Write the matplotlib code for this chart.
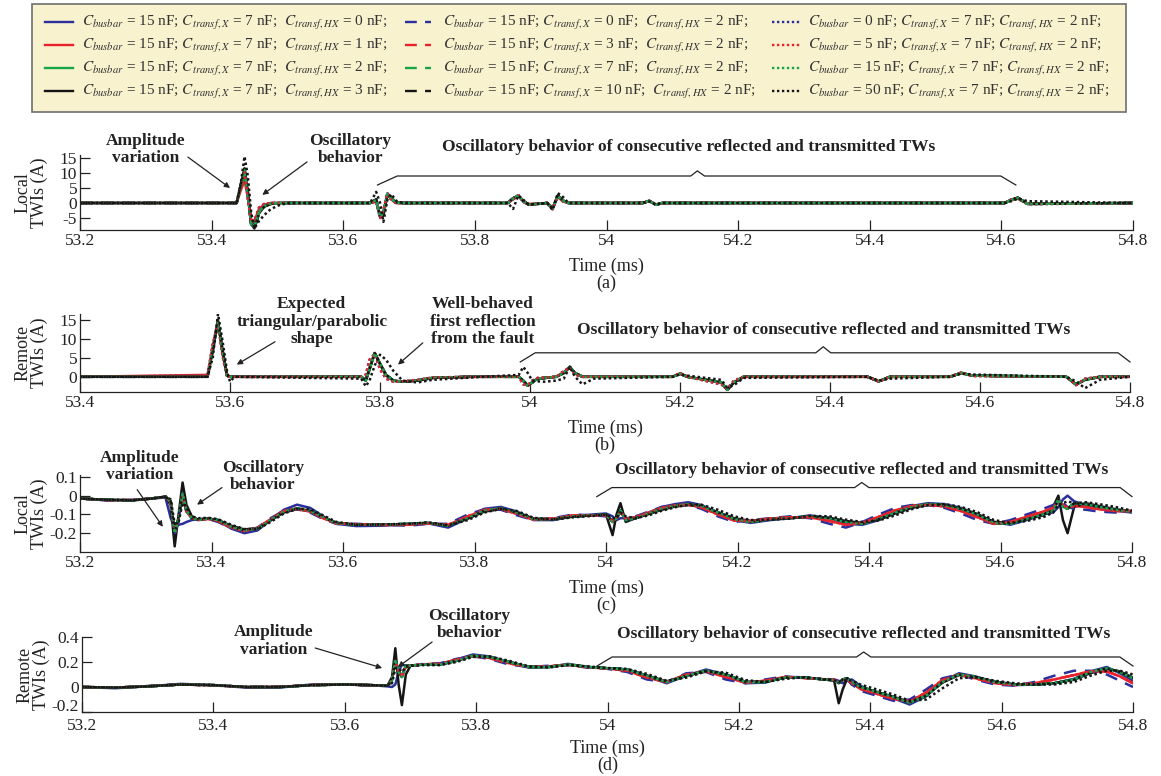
import matplotlib
matplotlib.use("Agg")
import matplotlib.pyplot as plt
from matplotlib.lines import Line2D
from matplotlib.patches import Rectangle
from matplotlib.ticker import FuncFormatter, FixedLocator
from matplotlib.transforms import ScaledTranslation

plt.rcParams['font.family'] = 'serif'
plt.rcParams['font.serif'] = ['Liberation Serif', 'DejaVu Serif']
plt.rcParams['mathtext.fontset'] = 'stix'

# ---------------------------------------------------------------------------
# Simulated TWI traces, sampled at the knots listed in t_*
# ---------------------------------------------------------------------------

# (a) local TWIs, full-scale (A)
t_a = [53.200, 53.438, 53.444, 53.450, 53.455, 53.460, 53.465, 53.472, 53.480, 53.490, 53.505, 53.520,
       53.641, 53.650, 53.656, 53.661, 53.667, 53.673, 53.680, 53.690,
       53.850, 53.858, 53.866, 53.874, 53.882, 53.910, 53.918, 53.926, 53.934, 53.942,
       54.055, 54.065, 54.075, 54.085,
       54.605, 54.615, 54.625, 54.640, 54.800]
a_mid = [0, 0, 5.5, 11.0, 3.0, -7.0, -8.0, -3.0, -1.0, -0.2, 0, 0,
         0, 1.0, -4.5, -3.5, 3.0, 1.5, 0.2, 0,
         0, 1.5, 2.5, 0.5, -0.5, 0, -1.8, 2.4, 0.8, 0,
         0, 0.7, -0.6, 0,
         0, 1.0, 1.7, -0.3, 0]
a_blue = [0, 0, 5.0, 10.0, 2.5, -6.5, -7.0, -2.5, -0.7, 0, 0, 0,
          0, 0.8, -4.8, -3.0, 3.2, 1.5, 0, 0,
          0, 1.4, 2.6, 0.4, -0.6, 0, -2.0, 2.2, 0.6, 0,
          0, 0.8, -0.5, 0,
          0, 1.1, 1.6, -0.3, 0]
a_red = [0, 0, 4.0, 7.5, 2.0, -5.5, -6.0, -2.0, -0.5, 0, 0, 0,
         0, 0.6, -4.0, -3.0, 2.8, 1.2, 0, 0,
         0, 1.2, 2.2, 0.5, -0.3, 0, -1.5, 2.0, 0.5, 0,
         0, 0.6, -0.5, 0,
         0, 0.9, 1.4, -0.2, 0]
a_black = [0, 0, 6.0, 11.5, 4.0, -7.0, -8.5, -3.5, -1.2, -0.3, 0, 0,
           0, 1.2, -4.5, -4.0, 2.6, 1.8, 0.3, 0,
           0, 1.6, 2.4, 0.6, -0.6, 0, -1.8, 2.5, 0.9, 0,
           0, 0.7, -0.6, 0,
           0, 1.1, 1.8, -0.3, 0]
a_low = [0, 0, 6.0, 10.5, 1.5, -6.5, -6.0, -1.5, -0.3, 0, 0, 0,
         0, 0.5, -5.0, -2.5, 3.3, 1.0, 0, 0,
         0, 1.3, 2.6, 0.3, -0.6, 0, -2.1, 2.2, 0.5, 0,
         0, 0.7, -0.6, 0,
         0, 1.2, 1.5, -0.4, 0]
a_high = [0, 0, 6.0, 15.5, 9.0, -3.0, -8.5, -6.0, -4.0, -2.0, -0.5, 0,
          0, 3.7, 0, -6.3, 1.0, 3.0, 0.8, 0,
          0, -2.0, 2.5, 1.0, -0.5, 0, -2.3, 3.3, 2.0, 0,
          0, 0.5, -0.5, 0,
          0, 0.6, 1.5, 0.6, 0]

# (b) remote TWIs, full-scale (A)
t_b = [53.400, 53.570, 53.577, 53.584, 53.590, 53.596, 53.600, 53.606,
       53.775, 53.781, 53.786, 53.793, 53.800, 53.808, 53.818, 53.830, 53.850, 53.870, 53.920,
       53.985, 53.991, 53.997, 54.003, 54.010, 54.020, 54.035, 54.045, 54.053, 54.060, 54.070, 54.085,
       54.190, 54.200, 54.210, 54.255, 54.263, 54.272, 54.285,
       54.450, 54.465, 54.480, 54.560, 54.575, 54.590,
       54.715, 54.728, 54.740, 54.760, 54.800]
b_mid = [0, 0, 7.0, 14.5, 7.0, 0.3, 0, 0,
         0, -1.0, 2.0, 6.2, 3.5, 0.5, -1.0, -1.3, -1.0, -0.3, 0,
         0, -1.0, -2.3, -1.5, -0.5, -0.3, 0, 1.0, 2.6, 1.0, 0, 0,
         0, 0.8, 0, -1.5, -3.4, -1.5, 0,
         0, -1.2, 0, 0, 1.0, 0.3,
         0, -2.0, -0.8, 0, 0]
b_red = [0, 0.5, 8.0, 15.0, 6.0, 0.2, 0, 0,
         0, -0.8, 2.5, 6.3, 3.2, 0.3, -1.1, -1.3, -1.0, -0.3, 0,
         0, -1.2, -2.4, -1.4, -0.5, -0.3, 0, 1.2, 2.6, 0.9, 0, 0,
         0, 0.9, 0, -1.6, -3.3, -1.4, 0,
         0, -1.2, 0, 0, 1.1, 0.3,
         0, -2.1, -0.7, 0, 0]
b_early = [0, 0.3, 8.5, 14.0, 5.5, 0, 0, 0,
           0, 0.5, 4.5, 6.0, 2.0, -0.5, -1.3, -1.2, -0.8, -0.2, 0,
           0, -2.0, -2.2, -1.0, -0.3, -0.2, 0, 1.5, 2.4, 0.5, 0, 0,
           0, 1.0, 0, -2.0, -3.2, -1.0, 0,
           0, -1.3, 0, 0, 1.1, 0.2,
           0, -2.2, -0.5, 0, 0]
b_high = [0, 0, 5.0, 16.5, 9.5, 1.5, -1.3, 0,
          -0.5, -2.5, -1.0, 3.0, 5.8, 4.5, 1.5, -1.0, -1.5, -0.8, -0.2,
          0.5, 2.6, 1.0, -1.0, -1.2, -1.3, -1.0, -0.5, 2.6, 0, -2.0, -0.5,
          0, 0.6, 0.3, -0.8, -2.8, -2.2, -0.3,
          0, -1.0, -0.5, 0, 0.8, 0.6,
          0, -1.2, -3.0, -0.8, 0]

# (c) local TWIs, low-amplitude window (A)
t_c = [53.200, 53.240, 53.280, 53.310, 53.330, 53.338, 53.344, 53.350, 53.356, 53.362,
       53.370, 53.380, 53.395, 53.410, 53.430, 53.450, 53.470, 53.490, 53.510, 53.530,
       53.550, 53.570, 53.590, 53.620, 53.660, 53.700, 53.730, 53.760, 53.790, 53.815,
       53.840, 53.865, 53.890, 53.920, 53.950, 53.980, 54.000, 54.010, 54.016, 54.022,
       54.030, 54.045, 54.065, 54.085, 54.105, 54.125, 54.145, 54.170, 54.195, 54.220,
       54.250, 54.280, 54.310, 54.340, 54.365, 54.390, 54.415, 54.440, 54.465, 54.490,
       54.515, 54.540, 54.565, 54.590, 54.615, 54.640, 54.665, 54.680, 54.688, 54.695,
       54.702, 54.712, 54.730, 54.750, 54.775, 54.800]
c_mid = [-0.015, -0.022, -0.025, -0.015, -0.005, -0.030, -0.200, -0.120, 0.010, -0.080,
         -0.120, -0.128, -0.122, -0.130, -0.165, -0.185, -0.175, -0.130, -0.085, -0.068,
         -0.080, -0.115, -0.145, -0.155, -0.155, -0.150, -0.145, -0.160, -0.120, -0.080,
         -0.068, -0.090, -0.125, -0.125, -0.110, -0.105, -0.100, -0.140, -0.120, -0.080,
         -0.130, -0.120, -0.095, -0.070, -0.055, -0.045, -0.055, -0.090, -0.125, -0.140,
         -0.125, -0.120, -0.110, -0.120, -0.140, -0.150, -0.125, -0.090, -0.060, -0.045,
         -0.050, -0.070, -0.100, -0.145, -0.150, -0.125, -0.100, -0.080, -0.020, -0.060,
         -0.070, -0.040, -0.045, -0.060, -0.075, -0.085]
c_blue = [-0.015, -0.025, -0.022, -0.015, -0.010, -0.120, -0.170, -0.155, -0.150, -0.140,
          -0.130, -0.125, -0.120, -0.135, -0.175, -0.200, -0.185, -0.130, -0.075, -0.048,
          -0.065, -0.110, -0.150, -0.162, -0.160, -0.152, -0.148, -0.170, -0.120, -0.070,
          -0.060, -0.085, -0.130, -0.130, -0.110, -0.100, -0.095, -0.110, -0.130, -0.120,
          -0.120, -0.115, -0.090, -0.060, -0.045, -0.035, -0.050, -0.090, -0.130, -0.145,
          -0.130, -0.120, -0.105, -0.120, -0.150, -0.155, -0.130, -0.090, -0.055, -0.040,
          -0.045, -0.065, -0.100, -0.140, -0.155, -0.130, -0.100, -0.090, -0.060, -0.020,
          0.000, -0.030, -0.050, -0.070, -0.080, -0.090]
c_black = [-0.015, -0.022, -0.025, -0.015, -0.005, -0.050, -0.270, -0.100, 0.070, -0.050,
           -0.110, -0.128, -0.122, -0.130, -0.160, -0.180, -0.172, -0.132, -0.090, -0.072,
           -0.082, -0.115, -0.145, -0.155, -0.155, -0.150, -0.145, -0.160, -0.122, -0.085,
           -0.072, -0.090, -0.122, -0.125, -0.112, -0.105, -0.100, -0.210, -0.100, -0.040,
           -0.140, -0.120, -0.098, -0.075, -0.058, -0.050, -0.058, -0.088, -0.120, -0.135,
           -0.125, -0.120, -0.112, -0.118, -0.135, -0.145, -0.128, -0.095, -0.065, -0.050,
           -0.052, -0.070, -0.098, -0.140, -0.145, -0.125, -0.105, -0.060, 0.000, -0.130,
           -0.200, -0.060, -0.040, -0.055, -0.072, -0.085]
c_bdash = [-0.015, -0.024, -0.024, -0.014, -0.005, -0.040, -0.210, -0.130, 0.000, -0.090,
           -0.125, -0.130, -0.125, -0.140, -0.175, -0.190, -0.170, -0.120, -0.080, -0.072,
           -0.090, -0.125, -0.150, -0.150, -0.155, -0.160, -0.150, -0.150, -0.100, -0.072,
           -0.075, -0.105, -0.130, -0.120, -0.100, -0.105, -0.110, -0.130, -0.120, -0.090,
           -0.120, -0.110, -0.085, -0.060, -0.050, -0.050, -0.070, -0.110, -0.140, -0.130,
           -0.120, -0.110, -0.120, -0.150, -0.170, -0.140, -0.100, -0.065, -0.050, -0.050,
           -0.065, -0.095, -0.130, -0.150, -0.130, -0.100, -0.070, -0.050, -0.030, -0.040,
           -0.060, -0.070, -0.075, -0.085, -0.090, -0.080]
c_rdash = [-0.015, -0.023, -0.024, -0.015, -0.005, -0.035, -0.200, -0.125, 0.000, -0.085,
           -0.120, -0.128, -0.124, -0.135, -0.170, -0.188, -0.172, -0.125, -0.082, -0.070,
           -0.085, -0.120, -0.148, -0.152, -0.156, -0.155, -0.148, -0.155, -0.110, -0.076,
           -0.070, -0.098, -0.128, -0.122, -0.105, -0.105, -0.105, -0.135, -0.120, -0.085,
           -0.125, -0.115, -0.090, -0.065, -0.052, -0.048, -0.062, -0.100, -0.133, -0.135,
           -0.122, -0.115, -0.115, -0.135, -0.155, -0.145, -0.112, -0.078, -0.055, -0.048,
           -0.058, -0.082, -0.115, -0.150, -0.140, -0.112, -0.085, -0.065, -0.030, -0.050,
           -0.065, -0.055, -0.060, -0.072, -0.082, -0.082]
c_kdot = [-0.015, -0.022, -0.025, -0.015, -0.005, -0.020, -0.150, -0.140, -0.040, -0.060,
          -0.110, -0.120, -0.118, -0.125, -0.155, -0.178, -0.178, -0.140, -0.095, -0.070,
          -0.072, -0.105, -0.140, -0.155, -0.153, -0.150, -0.142, -0.158, -0.130, -0.090,
          -0.070, -0.082, -0.118, -0.128, -0.115, -0.108, -0.100, -0.120, -0.120, -0.090,
          -0.110, -0.120, -0.105, -0.080, -0.062, -0.048, -0.048, -0.075, -0.110, -0.130,
          -0.128, -0.122, -0.108, -0.110, -0.128, -0.140, -0.132, -0.105, -0.072, -0.050,
          -0.045, -0.060, -0.088, -0.130, -0.145, -0.135, -0.115, -0.090, -0.050, -0.040,
          -0.030, -0.040, -0.035, -0.045, -0.060, -0.080]

# (d) remote TWIs, low-amplitude window (A)
t_d = [53.200, 53.250, 53.300, 53.350, 53.400, 53.450, 53.500, 53.550, 53.600, 53.640,
       53.665, 53.672, 53.677, 53.682, 53.687, 53.693, 53.700, 53.720, 53.745, 53.770,
       53.795, 53.820, 53.850, 53.880, 53.910, 53.940, 53.970, 54.000, 54.030, 54.060,
       54.090, 54.120, 54.150, 54.180, 54.210, 54.240, 54.270, 54.300, 54.330, 54.345,
       54.352, 54.358, 54.365, 54.372, 54.385, 54.410, 54.435, 54.460, 54.485, 54.510,
       54.535, 54.560, 54.590, 54.620, 54.650, 54.680, 54.710, 54.735, 54.760, 54.780,
       54.800]
d_mid = [0.000, -0.005, 0.005, 0.020, 0.015, 0.000, 0.000, 0.015, 0.020, 0.015,
         0.010, 0.050, 0.220, 0.120, 0.080, 0.170, 0.170, 0.180, 0.180, 0.210,
         0.250, 0.240, 0.200, 0.160, 0.160, 0.180, 0.160, 0.150, 0.140, 0.090,
         0.040, 0.090, 0.130, 0.100, 0.040, 0.040, 0.075, 0.075, 0.060, 0.055,
         0.030, 0.060, 0.070, 0.040, 0.000, -0.040, -0.080, -0.125, -0.070, 0.040,
         0.100, 0.080, 0.040, 0.020, 0.020, 0.030, 0.060, 0.120, 0.150, 0.120,
         0.070]
d_blue = [0.000, -0.010, 0.005, 0.025, 0.015, -0.005, -0.005, 0.020, 0.020, 0.015,
          0.005, 0.000, 0.020, 0.120, 0.180, 0.170, 0.170, 0.180, 0.185, 0.220,
          0.260, 0.245, 0.200, 0.155, 0.160, 0.185, 0.160, 0.150, 0.140, 0.085,
          0.030, 0.090, 0.140, 0.100, 0.030, 0.035, 0.080, 0.078, 0.060, 0.060,
          0.050, 0.030, 0.050, 0.060, 0.010, -0.050, -0.090, -0.140, -0.075, 0.045,
          0.110, 0.085, 0.035, 0.015, 0.020, 0.030, 0.065, 0.125, 0.160, 0.110,
          0.050]
d_black = [0.000, -0.005, 0.005, 0.020, 0.015, 0.000, 0.000, 0.015, 0.020, 0.015,
           0.010, 0.080, 0.310, 0.020, -0.145, 0.100, 0.170, 0.180, 0.180, 0.208,
           0.248, 0.240, 0.200, 0.162, 0.160, 0.178, 0.160, 0.150, 0.140, 0.092,
           0.045, 0.088, 0.128, 0.100, 0.042, 0.042, 0.075, 0.075, 0.060, 0.050,
           -0.130, -0.020, 0.070, 0.020, 0.000, -0.040, -0.078, -0.120, -0.070, 0.035,
           0.095, 0.080, 0.042, 0.022, 0.020, 0.030, 0.058, 0.110, 0.145, 0.125,
           0.075]
d_bdash = [0.000, -0.005, 0.008, 0.022, 0.012, 0.000, 0.002, 0.018, 0.020, 0.012,
           0.010, 0.060, 0.200, 0.130, 0.090, 0.160, 0.170, 0.185, 0.190, 0.225,
           0.245, 0.225, 0.180, 0.160, 0.170, 0.175, 0.155, 0.145, 0.120, 0.060,
           0.040, 0.110, 0.120, 0.060, 0.030, 0.060, 0.085, 0.070, 0.065, 0.060,
           0.030, 0.060, 0.060, 0.020, -0.030, -0.070, -0.110, -0.100, -0.020, 0.070,
           0.100, 0.060, 0.020, 0.010, 0.040, 0.090, 0.130, 0.130, 0.100, 0.050,
           0.000]
d_rdash = [0.000, -0.005, 0.006, 0.020, 0.014, 0.000, 0.001, 0.016, 0.020, 0.014,
           0.010, 0.055, 0.210, 0.125, 0.085, 0.165, 0.170, 0.182, 0.185, 0.218,
           0.248, 0.232, 0.190, 0.160, 0.165, 0.178, 0.158, 0.148, 0.130, 0.075,
           0.040, 0.100, 0.125, 0.080, 0.035, 0.050, 0.080, 0.072, 0.062, 0.058,
           0.030, 0.060, 0.065, 0.030, -0.015, -0.055, -0.095, -0.115, -0.045, 0.055,
           0.100, 0.070, 0.030, 0.015, 0.030, 0.060, 0.095, 0.125, 0.125, 0.085,
           0.030]
d_kdot = [0.000, -0.005, 0.005, 0.020, 0.015, 0.000, 0.000, 0.015, 0.020, 0.015,
          0.010, 0.030, 0.150, 0.150, 0.120, 0.160, 0.170, 0.175, 0.175, 0.200,
          0.240, 0.245, 0.210, 0.165, 0.155, 0.175, 0.165, 0.152, 0.145, 0.105,
          0.050, 0.075, 0.125, 0.115, 0.055, 0.040, 0.065, 0.078, 0.062, 0.055,
          0.040, 0.050, 0.060, 0.050, 0.020, -0.020, -0.060, -0.110, -0.100, -0.010,
          0.070, 0.080, 0.050, 0.030, 0.020, 0.020, 0.040, 0.090, 0.130, 0.130,
          0.100]

# the 12 simulated cases, in legend order (column by column)
busbar_nf = [15, 15, 15, 15, 15, 15, 15, 15, 0, 5, 15, 50]
transf_x_nf = [7, 7, 7, 7, 0, 3, 7, 10, 7, 7, 7, 7]
transf_hx_nf = [0, 1, 2, 3, 2, 2, 2, 2, 2, 2, 2, 2]

# which trace each case uses in every panel
traces_a = [a_blue, a_red, a_mid, a_black, a_mid, a_mid, a_mid, a_black, a_low, a_low, a_mid, a_high]
traces_b = [b_mid, b_red, b_mid, b_mid, b_mid, b_mid, b_mid, b_mid, b_early, b_early, b_mid, b_high]
traces_c = [c_blue, c_rdash, c_mid, c_black, c_bdash, c_rdash, c_mid, c_mid, c_mid, c_rdash, c_mid, c_kdot]
traces_d = [d_blue, d_rdash, d_mid, d_black, d_bdash, d_rdash, d_mid, d_mid, d_mid, d_rdash, d_mid, d_kdot]

COLORS = ['#2a2f9c', '#e8222b', '#17a548', '#151515']
STYLES = ['-', (0, (5, 3.5)), (0, (1, 1.1))]
TEXT_COLOR = '#222222'


def case_style(i):
    return dict(color=COLORS[i % 4], linestyle=STYLES[i // 4], linewidth=1.8)


def px_axes(fig, left, top, right, bottom):
    W, H = fig.get_size_inches() * fig.dpi
    return fig.add_axes([left / W, 1 - bottom / H, (right - left) / W, (bottom - top) / H])


def style_axes(ax, xlim, ylim, yticks, ylabel, tag, xpad=2):
    ax.set_xlim(*xlim)
    ax.set_ylim(*ylim)
    ax.spines['top'].set_visible(False)
    ax.spines['right'].set_visible(False)
    for s in ('left', 'bottom'):
        ax.spines[s].set_linewidth(0.9)
        ax.spines[s].set_color('#222222')
    xt = [round(xlim[0] + 0.2 * k, 1) for k in range(int(round((xlim[1] - xlim[0]) / 0.2)) + 1)]
    ax.xaxis.set_major_locator(FixedLocator(xt))
    ax.yaxis.set_major_locator(FixedLocator(yticks))
    ax.xaxis.set_major_formatter(FuncFormatter(lambda v, p: f"{v:g}"))
    ax.yaxis.set_major_formatter(FuncFormatter(lambda v, p: f"{v:g}"))
    ax.tick_params(direction='in', length=7, width=0.9, labelsize=12.5, colors='#222222', pad=2)
    ax.tick_params(axis='x', pad=xpad)
    ax.set_ylabel(ylabel, fontsize=13, linespacing=0.95, color=TEXT_COLOR)
    ax.yaxis.set_label_coords(-0.030, 0.5)
    ax.annotate('Time (ms)', xy=(0.5, 0), xycoords='axes fraction', xytext=(0, -26),
                textcoords='offset points', ha='center', va='center', fontsize=13, color=TEXT_COLOR)
    ax.annotate(tag, xy=(0.5, 0), xycoords='axes fraction', xytext=(0, -38.5),
                textcoords='offset points', ha='center', va='center', fontsize=13, color=TEXT_COLOR)


def note(ax, text, xy, tip, start):
    ax.text(xy[0], xy[1], text, ha='center', va='center', fontsize=12.5, fontweight='bold',
            color=TEXT_COLOR, linespacing=1.1, clip_on=False)
    ax.annotate('', xy=tip, xytext=start, annotation_clip=False,
                arrowprops=dict(arrowstyle='-|>', color='#222222', lw=0.9,
                                mutation_scale=8, shrinkA=0, shrinkB=0))


def bracket(ax, xs, ys, label, label_xy):
    ax.plot(xs, ys, color='#222222', lw=0.9, clip_on=False)
    ax.text(label_xy[0], label_xy[1], label, ha='center', va='center', fontsize=12.5,
            fontweight='bold', color=TEXT_COLOR, clip_on=False)


def draw_panel(ax, t, traces):
    for i, y in enumerate(traces):
        ax.plot(t, y, **case_style(i))


def draw_legend(fig):
    lax = fig.add_axes([0, 0, 1, 1])
    lax.set_xlim(0, 1161)
    lax.set_ylim(776, 0)
    lax.axis('off')
    lax.add_patch(Rectangle((32, 4), 1094, 108, facecolor='#f8f2cf', edgecolor='#6e6e6e', lw=1.2))
    handle_x = [(45, 73), (405, 431), (772, 800)]
    text_x = [82, 443, 808]
    gaps = ['  ', '  ', ' ']
    rows_y = [22, 45, 68, 91]
    for i in range(12):
        col, row = i // 4, i % 4
        st = case_style(i)
        st['linewidth'] = 1.7
        lax.add_line(Line2D(handle_x[col], [rows_y[row], rows_y[row]], **st))
        label = (r'$C_{busbar}$' + f' = {busbar_nf[i]} nF; ' +
                 r'$C_{transf,X}$' + f' = {transf_x_nf[i]} nF;' + gaps[col] +
                 r'$C_{transf,HX}$' + f' = {transf_hx_nf[i]} nF;')
        lax.text(text_x[col], rows_y[row] + 1, label, ha='left', va='center',
                 fontsize=11, color='#333333')


fig = plt.figure(figsize=(11.61, 7.76), dpi=100)

title = 'Oscillatory behavior of consecutive reflected and transmitted TWs'

# (a) local, full-scale
ax_a = px_axes(fig, 80, 155, 1133, 230)
draw_panel(ax_a, t_a, traces_a)
style_axes(ax_a, (53.2, 54.8), (-9, 16), [-5, 0, 5, 10, 15], 'Local\nTWIs (A)', '(a)')
note(ax_a, 'Amplitude\nvariation', (53.299, 17.7), (53.428, 5.0), (53.364, 15.3))
note(ax_a, 'Oscillatory\nbehavior', (53.611, 17.7), (53.477, 2.7), (53.545, 13.7))
bracket(ax_a, [53.652, 53.682, 54.128, 54.138, 54.149, 54.599, 54.622],
        [6, 9, 9, 10.7, 9, 9, 6], title, (54.125, 18.7))

# (b) remote, full-scale
ax_b = px_axes(fig, 80, 314, 1130, 392)
draw_panel(ax_b, t_b, traces_b)
style_axes(ax_b, (53.4, 54.8), (-4, 16.5), [0, 5, 10, 15], 'Remote\nTWIs (A)', '(b)')
note(ax_b, 'Expected\ntriangular/parabolic\nshape', (53.709, 14.5), (53.609, 3.2), (53.66, 9.2))
note(ax_b, 'Well-behaved\nfirst reflection\nfrom the fault', (53.937, 14.5), (53.824, 3.2), (53.857, 8.9))
bracket(ax_b, [53.987, 54.007, 54.381, 54.391, 54.401, 54.784, 54.8],
        [3.9, 6.3, 6.3, 7.9, 6.3, 6.3, 3.9], title, (54.391, 12.4))

# (c) local, zoomed
ax_c = px_axes(fig, 80, 475, 1132, 552)
draw_panel(ax_c, t_c, traces_c)
style_axes(ax_c, (53.2, 54.8), (-0.3, 0.11), [-0.2, -0.1, 0, 0.1], 'Local\nTWIs (A)', '(c)')
note(ax_c, 'Amplitude\nvariation', (53.291, 0.155), (53.326, -0.166), (53.287, 0.032))
note(ax_c, 'Oscillatory\nbehavior', (53.478, 0.10), (53.378, -0.048), (53.416, 0.043))
bracket(ax_c, [53.986, 54.009, 54.378, 54.389, 54.400, 54.782, 54.8],
        [-0.005, 0.043, 0.043, 0.07, 0.043, 0.043, -0.005], title, (54.389, 0.139))

# (d) remote, zoomed
ax_d = px_axes(fig, 82, 637, 1133, 712)
draw_panel(ax_d, t_d, traces_d)
style_axes(ax_d, (53.2, 54.8), (-0.2, 0.4), [-0.2, 0, 0.2, 0.4], 'Remote\nTWIs (A)', '(d)', xpad=4)
# lift the bottom y label a little so it clears the first time label
low_label = ax_d.yaxis.get_major_ticks()[0].label1
low_label.set_transform(low_label.get_transform() + ScaledTranslation(0, 5 / 72, fig.dpi_scale_trans))
note(ax_d, 'Amplitude\nvariation', (53.491, 0.368), (53.657, 0.152), (53.555, 0.312))
note(ax_d, 'Oscillatory\nbehavior', (53.79, 0.5), (53.681, 0.16), (53.733, 0.36))
bracket(ax_d, [53.984, 54.007, 54.379, 54.39, 54.401, 54.78, 54.8],
        [0.168, 0.24, 0.24, 0.28, 0.24, 0.24, 0.168], title, (54.39, 0.424))

draw_legend(fig)

fig.savefig('out.png', dpi=100)
